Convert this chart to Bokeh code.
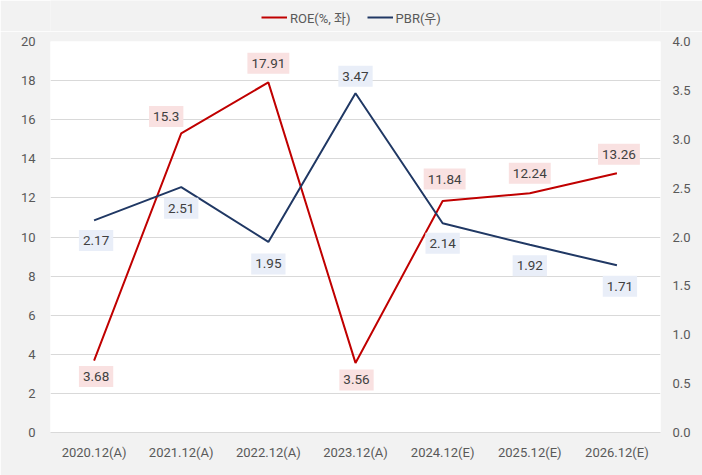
from bokeh.plotting import figure
from bokeh.layouts import column
from bokeh.models import ColumnDataSource, Range1d, LinearAxis, Legend, LegendItem, FactorRange, SingleIntervalTicker, NumeralTickFormatter
from bokeh.core.properties import value
from bokeh.embed import file_html
from bokeh.resources import INLINE

categories = ["2020.12(A)", "2021.12(A)", "2022.12(A)", "2023.12(A)", "2024.12(E)", "2025.12(E)", "2026.12(E)"]
roe = [3.68, 15.3, 17.91, 3.56, 11.84, 12.24, 13.26]
pbr = [2.17, 2.51, 1.95, 3.47, 2.14, 1.92, 1.71]
roe_labels = ["3.68", "15.3", "17.91", "3.56", "11.84", "12.24", "13.26"]
pbr_labels = ["2.17", "2.51", "1.95", "3.47", "2.14", "1.92", "1.71"]

# label pixel offsets (style)
roe_dx = [2, -15, 0, 1, 2, 0, 2]
roe_dy = [16, -17, -19, 17, -22, -20, -19]
pbr_dx = [2, 0, 0, 0, 0, 0, 3]
pbr_dy = [20, 21, 22, -17, 20, 21, 21]

FONT = "Roboto, 'Noto Sans CJK KR', sans-serif"
RED = "#c00000"
NAVY = "#203864"
TXT = "#595959"
BG = "#f2f2f2"

p = figure(width=702, height=444, x_range=FactorRange(*categories, range_padding=0),
           y_range=Range1d(0, 20), output_backend="svg", toolbar_location=None,
           min_border_left=50, min_border_right=42, min_border_top=10, min_border_bottom=43)
p.background_fill_color = "white"
p.border_fill_color = BG
p.outline_line_color = None
p.extra_y_ranges = {"pbr": Range1d(0, 4)}

p.yaxis.ticker = SingleIntervalTicker(interval=2)
p.ygrid.ticker = SingleIntervalTicker(interval=2)
p.ygrid.grid_line_color = "#d9d9d9"
p.xgrid.grid_line_color = None

ax2 = LinearAxis(y_range_name="pbr", ticker=SingleIntervalTicker(interval=0.5),
                 formatter=NumeralTickFormatter(format="0.0"))
p.add_layout(ax2, "right")

for ax in [p.yaxis[0], ax2, p.xaxis[0]]:
    ax.major_tick_line_color = None
    ax.minor_tick_line_color = None
    ax.major_tick_out = 0
    ax.minor_tick_out = 0
    ax.major_label_text_font = FONT
    ax.major_label_text_font_size = "13px"
    ax.major_label_text_color = TXT
p.yaxis[0].axis_line_color = None
ax2.axis_line_color = None
p.yaxis[0].major_label_standoff = 15
ax2.major_label_standoff = 12
p.xaxis[0].axis_line_color = "#d9d9d9"
p.xaxis[0].major_label_standoff = 12

src = ColumnDataSource(dict(x=categories, roe=roe, pbr=pbr, rl=roe_labels, pl=pbr_labels,
                            rdx=roe_dx, rdy=roe_dy, pdx=pbr_dx, pdy=pbr_dy))

r1 = p.line("x", "roe", source=src, line_color=RED, line_width=2)
r2 = p.line("x", "pbr", source=src, line_color=NAVY, line_width=2, y_range_name="pbr")

p.text("x", "roe", text="rl", source=src, x_offset="rdx", y_offset="rdy",
       text_align="center", text_baseline="middle", text_font=value(FONT),
       text_font_size="13.5px", text_color="#404040",
       background_fill_color="#f9e1e1", padding=[4, 4, 6, 6])
p.text("x", "pbr", text="pl", source=src, x_offset="pdx", y_offset="pdy", y_range_name="pbr",
       text_align="center", text_baseline="middle", text_font=value(FONT),
       text_font_size="13.5px", text_color="#404040",
       background_fill_color="#e9eef8", padding=[4, 4, 6, 6])

# legend strip on top
lf = figure(width=702, height=31, x_range=FactorRange(*categories), y_range=Range1d(100, 101),
            output_backend="svg", toolbar_location=None,
            min_border_left=0, min_border_right=0, min_border_top=0, min_border_bottom=0)
lf.axis.visible = False
lf.grid.visible = False
lf.outline_line_color = None
lf.background_fill_color = BG
lf.border_fill_color = BG
l1 = lf.line("x", "roe", source=src, line_color=RED, line_width=2)
l2 = lf.line("x", "pbr", source=src, line_color=NAVY, line_width=2)

legend = Legend(items=[LegendItem(label="ROE(%, 좌)", renderers=[l1]),
                       LegendItem(label="PBR(우)", renderers=[l2])],
                orientation="horizontal", location=(211, 4),
                background_fill_alpha=0, border_line_color=None,
                label_text_font=FONT, label_text_font_size="13px", label_text_color=TXT,
                glyph_width=26, glyph_height=20, label_height=20, spacing=16, label_standoff=3,
                padding=0, margin=0)
lf.add_layout(legend, "center")

open("out.html", "w").write(file_html(column(lf, p, spacing=0), INLINE))
